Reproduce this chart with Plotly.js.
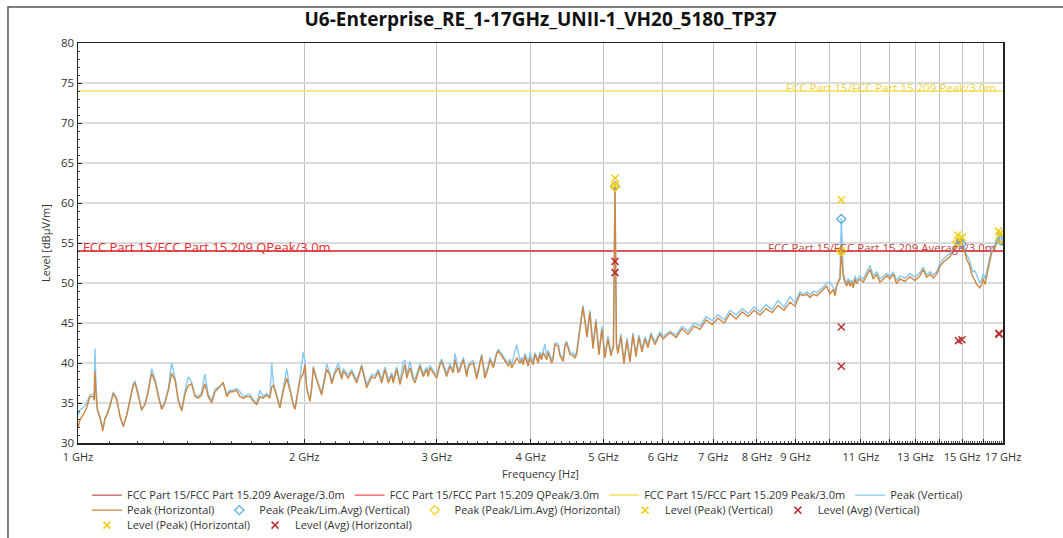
<!DOCTYPE html>
<html>
<head>
<meta charset="utf-8">
<script src="https://cdn.plot.ly/plotly-3.0.1.min.js"></script>
<style>html,body{margin:0;padding:0;background:#fff;}#chart{width:1063px;height:538px;}</style>
</head>
<body>
<div id="chart"></div>
<script>
// Frequency (MHz) shared by both peak scans
const freqMHz = [
1001,1006,1016,1027,1037,1048,1051,1053,1057,1061,1070,1079,1086,1092,1103,1114,1126,1137,1149,1161,
1173,1185,1191,1203,1215,1228,1240,1253,1266,1279,1292,1305,1319,1332,1346,1360,1374,1388,1402,1416,
1431,1445,1460,1475,1490,1506,1521,1537,1560,1577,1593,1609,1626,1642,1659,1676,1693,1711,1729,1746,
1764,1782,1800,1810,1819,1838,1856,1875,1895,1914,1933,1944,1963,1974,1994,2004,2015,2035,
2046,2056,2077,2098,2109,2131,2142,2164,2175,2197,2219,2243,2254,2288,2312,2348,2384,2421,2458,2483,
2509,2535,2561,2587,2614,2626,2654,2681,2708,2722,2737,2764,2792,2807,2850,2879,2909,2924,2939,2984,
3000,3031,3046,3077,3093,3125,3156,3173,3205,3222,3255,3289,3305,3322,3356,3391,3425,3443,3478,3514,
3532,3568,3605,3623,3661,3698,3735,3755,3774,3833,3872,3892,3911,3931,3971,3992,4032,4053,4094,4116,
4137,4158,4179,4201,4222,4266,4287,4309,4353,4376,4420,4444,4467,4512,4558,4582,4606,4628,4652,
4696,4753,4797,4842,4886,4932,4977,5023,5069,5116,5155,5180,5203,5227,5275,5324,5373,5423,5473,5523,
5574,5626,5678,5730,5783,5854,5944,
6002,6132,6246,6361,6479,6600,6722,6847,6974,7104,7236,7370,7507,7646,7788,7930,8077,8227,8379,8535,
8693,8854,8989,9128,9221,9317,9412,9507,9607,9704,9803,9906,10006,10108,10161,10214,10264,10317,10360,
10422,10477,10531,10583,10638,10694,10746,10802,10859,10912,10969,11080,11197,11310,11425,11545,11662,
11781,11904,12025,12147,12274,12399,12590,12784,12982,13182,13316,13455,13592,13730,13874,13942,14015,
14157,14305,14450,14597,14750,14822,14899,14977,15051,15129,15208,15283,15363,15443,15519,15600,15681,
15758,15840,15923,16001,16085,16169,16249,16334,16419,16500,16586,16673,16755,16842,16930,17000
];
// Peak (Horizontal) level, dBµV/m
const peakHorizontal = [
32.0,32.9,33.5,34.4,35.8,35.8,35.3,39.0,36.0,34.1,33.1,31.5,33.0,33.4,34.6,36.2,35.4,33.4,32.1,33.5,
35.4,37.3,37.5,36.0,34.2,34.8,36.4,38.7,37.7,35.8,34.2,35.0,36.6,38.7,37.9,35.2,34.0,36.2,37.2,37.4,
35.8,35.6,36.0,37.4,35.8,35.0,36.4,36.8,37.6,35.8,36.4,36.4,36.6,35.8,35.6,35.8,35.8,35.2,34.8,35.8,
35.6,36.0,35.6,37.0,37.2,35.8,34.4,36.5,38.1,36.6,34.8,34.2,36.5,37.9,38.7,39.8,36.8,35.2,
36.9,39.4,37.9,36.5,36.0,38.2,39.2,38.4,37.4,38.7,39.4,38.0,39.0,38.1,38.9,37.5,39.6,36.9,38.3,38.1,
38.9,37.5,39.2,37.5,38.5,37.5,39.2,37.3,39.2,39.8,38.1,39.4,37.9,37.5,39.6,38.3,39.2,38.3,39.4,38.3,
38.1,39.8,40.2,39.0,38.3,39.6,38.8,40.4,38.8,39.2,40.4,38.3,39.4,39.8,40.0,38.0,40.0,40.9,38.1,39.4,
40.4,39.4,41.1,41.5,40.9,40.2,39.6,40.2,39.4,40.6,40.0,40.4,39.8,40.9,39.6,40.6,39.8,41.1,40.0,41.1,
40.4,41.3,40.9,40.4,41.3,40.0,40.6,42.3,42.1,40.9,40.2,42.1,42.5,41.1,40.9,40.6,41.1,42.7,44.2,
47.0,43.2,46.3,41.8,45.2,41.0,44.2,40.6,43.0,40.9,42.0,62.0,42.2,41.2,43.3,39.9,42.8,40.1,43.5,40.8,
43.2,41.4,43.0,41.9,43.5,42.3,43.6,
43.0,43.8,43.2,44.3,43.6,44.6,44.2,45.4,44.8,45.6,45.0,46.2,45.5,46.4,45.8,46.6,46.0,46.8,46.3,47.2,
46.6,47.6,47.1,48.6,48.4,48.6,48.2,48.6,48.4,48.8,49.2,49.6,48.6,49.2,48.4,49.6,50.1,50.5,54.0,
50.9,50.1,49.6,50.3,49.6,50.1,49.4,50.5,49.9,50.3,50.5,50.1,50.9,51.7,50.5,51.1,50.1,
50.5,50.9,50.5,51.1,49.9,50.5,50.2,50.8,50.3,50.9,51.7,50.7,51.1,50.6,51.1,51.7,52.1,
52.6,53.0,53.3,54.0,54.9,55.5,54.7,55.3,54.2,53.8,53.0,52.6,52.1,51.1,50.6,50.3,49.8,
49.6,49.4,49.8,50.5,49.8,50.8,51.7,53.0,53.8,54.0,54.4,55.1,55.5,54.9,55.2,54.7
];
// Peak (Vertical) level, dBµV/m
const peakVertical = [
33.5,34.2,34.4,35.0,36.0,36.1,35.8,41.8,37.0,34.3,33.3,31.8,33.1,33.6,34.8,36.4,35.6,33.3,32.0,33.5,
35.6,37.5,37.7,36.2,34.0,35.0,36.6,39.3,38.0,36.0,34.3,35.2,36.9,40.0,38.2,35.4,34.2,36.5,38.3,37.6,
36.0,35.8,36.3,38.6,36.1,35.3,36.7,37.0,37.4,36.2,36.6,36.6,36.8,36.4,35.8,36.0,36.1,35.4,35.0,36.6,
35.8,36.2,35.8,40.0,37.5,36.0,34.6,36.8,39.3,36.8,35.0,34.4,36.8,38.2,41.4,40.2,37.0,35.4,
37.1,39.6,38.1,36.8,36.3,38.5,39.9,38.6,37.7,39.0,40.0,38.3,39.3,38.5,39.2,37.8,39.8,37.3,38.6,38.4,
39.2,37.9,39.5,37.9,38.8,37.9,39.5,37.7,40.2,40.3,38.5,40.2,38.3,37.9,39.9,38.6,39.5,38.7,39.7,38.7,
38.5,40.1,40.5,39.3,38.7,39.9,39.1,41.2,39.1,39.5,40.7,38.7,39.7,40.1,40.3,38.4,40.3,41.1,38.5,39.7,
40.7,39.7,41.3,41.7,41.2,40.5,40.0,40.5,39.8,42.3,40.3,40.7,40.1,41.2,40.0,41.3,40.1,41.3,40.3,41.4,
40.7,41.6,42.4,40.7,41.6,40.4,40.9,42.5,42.4,41.2,40.5,42.4,42.7,41.4,41.2,40.9,41.4,43.0,44.5,
47.2,43.6,46.6,42.2,45.5,41.3,44.6,41.0,43.4,41.3,42.3,62.1,42.5,41.5,43.6,40.2,43.1,40.5,43.8,41.2,
43.5,41.7,43.3,42.3,43.8,42.6,43.9,
43.3,44.0,43.5,44.6,44.0,45.0,44.6,45.8,45.3,46.0,45.4,46.6,46.0,46.8,46.2,47.0,46.4,47.3,46.7,47.8,
47.0,48.3,47.5,48.9,48.6,48.9,48.5,49.0,48.8,49.1,49.5,50.0,50.1,49.5,48.7,49.8,50.3,50.7,58.1,
51.2,50.4,50.0,50.6,50.0,50.4,49.8,50.9,50.3,50.6,50.9,50.5,51.3,52.2,50.9,51.4,50.5,
50.8,51.2,50.8,51.4,50.3,50.9,50.6,51.2,50.7,51.3,52.0,51.0,51.4,51.0,51.4,52.0,52.5,
53.0,53.4,53.7,54.3,55.2,55.7,55.0,55.5,54.6,54.2,53.5,53.2,52.7,51.8,51.4,51.5,51.0,
50.5,50.0,50.4,51.2,50.5,51.4,52.2,53.4,54.2,54.5,54.8,55.5,56.5,55.3,55.6,55.0
];

// Limit lines
const limitFreq = [1000, 17000];
const avgLimit = [54, 54];
const qpLimit = [54, 54];
const pkLimit = [74, 74];

// Final measurement markers
const pkLimAvgVFreq = [5180, 10360, 14980, 16880];
const pkLimAvgV = [62.1, 58.0, 54.9, 55.3];
const pkLimAvgHFreq = [5180, 10360, 14790, 16870];
const pkLimAvgH = [62.0, 54.0, 55.1, 55.5];
const lvlPeakVFreq = [5180, 10360, 15000, 16760];
const lvlPeakV = [63.1, 60.4, 55.7, 56.5];
const lvlAvgVFreq = [5180, 10360, 14990, 16790];
const lvlAvgV = [52.7, 44.5, 42.9, 43.7];
const lvlPeakHFreq = [5180, 10360, 14800, 16870];
const lvlPeakH = [62.2, 54.0, 56.0, 56.3];
const lvlAvgHFreq = [5180, 10360, 14830, 16800];
const lvlAvgH = [51.3, 39.6, 42.8, 43.6];

// Axis tick labels
const xTickVals = [1000,2000,3000,4000,5000,6000,7000,8000,9000,10000,11000,12000,13000,14000,15000,16000,17000];
const xTickText = ['1 GHz','2 GHz','3 GHz','4 GHz','5 GHz','6 GHz','7 GHz','8 GHz','9 GHz','','11 GHz','','13 GHz','','15 GHz','','17 GHz'];

const minorX = [];
for (let m = 1100; m < 17000; m += 100) { if (m % 1000 !== 0) minorX.push(m); }

const C = {
  avg: '#c65656', qp: '#e62a30', pk: '#f6df62',
  blue: '#86c9f2', orange: '#cf8640', gold: '#f3cd12', red: '#b83030'
};

const traces = [
  {x: limitFreq, y: avgLimit, name: 'FCC Part 15/FCC Part 15.209 Average/3.0m', mode: 'lines', line: {color: C.avg, width: 1.4}, legend: 'legend'},
  {x: limitFreq, y: qpLimit, name: 'FCC Part 15/FCC Part 15.209 QPeak/3.0m', mode: 'lines', line: {color: C.qp, width: 1}, legend: 'legend'},
  {x: limitFreq, y: pkLimit, name: 'FCC Part 15/FCC Part 15.209 Peak/3.0m', mode: 'lines', line: {color: C.pk, width: 1.5}, legend: 'legend'},
  {x: freqMHz, y: peakVertical, name: 'Peak (Vertical)', mode: 'lines', line: {color: C.blue, width: 1.4}, legend: 'legend'},
  {x: freqMHz, y: peakHorizontal, name: 'Peak (Horizontal)', mode: 'lines', line: {color: C.orange, width: 1.4}, legend: 'legend2'},
  {x: pkLimAvgVFreq, y: pkLimAvgV, name: 'Peak (Peak/Lim.Avg) (Vertical)', mode: 'markers', marker: {symbol: 'diamond-open', size: 7, color: '#5aa8e0', line: {width: 1.3}}, legend: 'legend2'},
  {x: pkLimAvgHFreq, y: pkLimAvgH, name: 'Peak (Peak/Lim.Avg) (Horizontal)', mode: 'markers', marker: {symbol: 'diamond-open', size: 7, color: C.gold, line: {width: 1.3}}, legend: 'legend2'},
  {x: lvlPeakVFreq, y: lvlPeakV, name: 'Level (Peak) (Vertical)', mode: 'markers', marker: {symbol: 'x-thin-open', size: 7, color: C.gold, line: {width: 1.5, color: C.gold}}, legend: 'legend2'},
  {x: lvlAvgVFreq, y: lvlAvgV, name: 'Level (Avg) (Vertical)', mode: 'markers', marker: {symbol: 'x-thin-open', size: 7, color: C.red, line: {width: 1.5, color: C.red}}, legend: 'legend2'},
  {x: lvlPeakHFreq, y: lvlPeakH, name: 'Level (Peak) (Horizontal)', mode: 'markers', marker: {symbol: 'x-thin-open', size: 7, color: C.gold, line: {width: 1.5, color: C.gold}}, legend: 'legend3'},
  {x: lvlAvgHFreq, y: lvlAvgH, name: 'Level (Avg) (Horizontal)', mode: 'markers', marker: {symbol: 'x-thin-open', size: 7, color: C.red, line: {width: 1.5, color: C.red}}, legend: 'legend3'}
];

const FONT = '"Open Sans", "Noto Sans", sans-serif';
const legendBase = {orientation: 'h', x: 0.0097, xanchor: 'left', yanchor: 'top',
  font: {family: FONT, size: 11, color: '#333'}, bgcolor: 'rgba(0,0,0,0)', traceorder: 'normal', itemwidth: 30};

const layout = {
  width: 1063, height: 538,
  margin: {l: 78, r: 60, t: 43, b: 95, autoexpand: false},
  paper_bgcolor: '#fff', plot_bgcolor: '#fff',
  font: {family: FONT, size: 11, color: '#333'},
  showlegend: true,
  hovermode: false,
  title: {text: '<b>U6-Enterprise_RE_1-17GHz_UNII-1_VH20_5180_TP37</b>', font: {family: FONT, size: 19, color: '#111'},
          xref: 'paper', x: 0.5, xanchor: 'center', yref: 'container', y: 0.964, yanchor: 'middle'},
  xaxis: {
    type: 'log', range: [3, Math.log10(17000)],
    tickmode: 'array', tickvals: xTickVals, ticktext: xTickText,
    showgrid: true, gridcolor: '#c2c2c2', gridwidth: 1,
    ticks: 'inside', ticklen: 4, tickcolor: '#222', tickfont: {size: 11, color: '#333'},
    ticklabelstandoff: 3,
    showline: true, linecolor: '#222', linewidth: 1.5, mirror: true, zeroline: false,
    minor: {tickmode: 'array', tickvals: minorX, ticks: 'inside', ticklen: 2, tickcolor: '#444', showgrid: false},
    title: {text: 'Frequency [Hz]', standoff: 7, font: {size: 11, color: '#333'}}
  },
  yaxis: {
    range: [30, 80], tick0: 30, dtick: 5,
    showgrid: true, gridcolor: '#dadada', gridwidth: 1.5,
    ticks: 'inside', ticklen: 4, tickcolor: '#222', tickfont: {size: 11.5, color: '#333'},
    showline: true, linecolor: '#222', linewidth: 1.5, mirror: true, zeroline: false,
    minor: {dtick: 1, ticks: 'inside', ticklen: 2, tickcolor: '#444', showgrid: false},
    title: {text: 'Level [dBµV/m]', standoff: 8, font: {size: 11, color: '#333'}}
  },
  legend: Object.assign({}, legendBase, {y: -0.094}),
  legend2: Object.assign({}, legendBase, {y: -0.1315}),
  legend3: Object.assign({}, legendBase, {y: -0.169}),
  annotations: [
    {xref: 'paper', x: 0.003, xanchor: 'left', yref: 'y', y: 54, yanchor: 'middle', yshift: 4,
     text: 'FCC Part 15/FCC Part 15.209 QPeak/3.0m', showarrow: false, font: {size: 13, color: '#e62a30'}},
    {xref: 'paper', x: 0.995, xanchor: 'right', yref: 'y', y: 54, yanchor: 'middle', yshift: 4,
     text: 'FCC Part 15/FCC Part 15.209 Average/3.0m', showarrow: false, font: {size: 11.5, color: '#c04646'}},
    {xref: 'paper', x: 0.995, xanchor: 'right', yref: 'y', y: 74, yanchor: 'middle', yshift: 4,
     text: 'FCC Part 15/FCC Part 15.209 Peak/3.0m', showarrow: false, font: {size: 11.5, color: '#f0d43a'}}
  ],
  shapes: [
    {type: 'rect', xref: 'paper', yref: 'paper', x0: -0.0757, x1: 1.09, y0: -0.4, y1: 1.09,
     line: {color: '#555', width: 1.5}, fillcolor: 'rgba(0,0,0,0)', layer: 'above'}
  ]
};

Plotly.newPlot('chart', traces, layout, {displayModeBar: false, staticPlot: true});
</script>
</body>
</html>
